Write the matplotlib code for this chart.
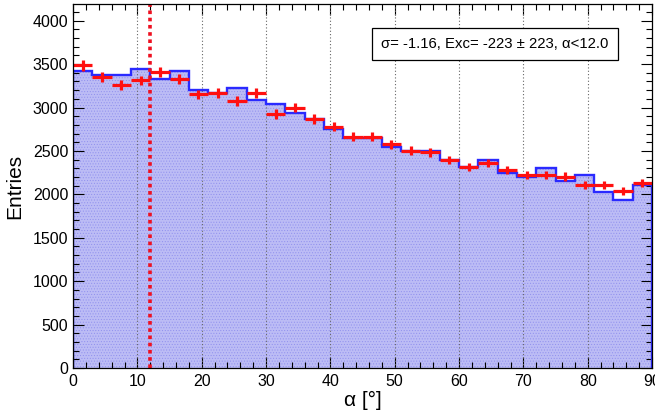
import numpy as np
import matplotlib
matplotlib.use("Agg")
import matplotlib.pyplot as plt
from matplotlib.ticker import MultipleLocator

plt.rcParams['font.family'] = ['Liberation Sans', 'DejaVu Sans']
plt.rcParams['hatch.linewidth'] = 0.4

# data
bin_edges = np.arange(0, 91, 3)
bkg_counts = [3415, 3373, 3373, 3442, 3323, 3423, 3196, 3166, 3219, 3089,
              3039, 2931, 2866, 2758, 2647, 2647, 2547, 2501, 2501, 2394,
              2317, 2398, 2244, 2194, 2298, 2156, 2221, 2029, 1937, 2106]
on_counts = [3484, 3354, 3258, 3311, 3408, 3323, 3150, 3170, 3077, 3170,
             2924, 3000, 2866, 2778, 2666, 2666, 2578, 2501, 2482, 2394,
             2317, 2360, 2279, 2221, 2221, 2205, 2106, 2106, 2040, 2125]
alpha_cut = 12.0
grid_x = [10, 20, 30, 40, 50, 60, 70, 80]
label_text = r"σ= -1.16, Exc= -223 ± 223, α<12.0"

fig = plt.figure(figsize=(6.55, 4.17), dpi=100)
ax = fig.add_axes([0.1115, 0.1175, 0.884, 0.8725])

centers = 0.5 * (bin_edges[:-1] + bin_edges[1:])
# filled background histogram
ax.hist(centers, bins=bin_edges, weights=bkg_counts, histtype='stepfilled',
        facecolor='#bcbcf5', edgecolor='#9090ee', hatch='......', linewidth=0, zorder=1)
ax.hist(centers, bins=bin_edges, weights=bkg_counts, histtype='step',
        color='#2a2aff', linewidth=1.7, zorder=3)

for gx in grid_x:
    ax.axvline(gx, color='#666666', linestyle=(0, (1, 2)), linewidth=0.8, zorder=2)

ax.errorbar(centers, on_counts, xerr=1.5, yerr=np.sqrt(on_counts), fmt='none',
            ecolor='#ff1010', elinewidth=2.3, capsize=0, zorder=4)

ax.axvline(alpha_cut, color='#ee1020', linestyle=(0, (1, 1)), linewidth=2.6, zorder=5)

ax.set_xlim(0, 90)
ax.set_ylim(0, 4190)
ax.xaxis.set_major_locator(MultipleLocator(10))
ax.xaxis.set_minor_locator(MultipleLocator(2))
ax.yaxis.set_major_locator(MultipleLocator(500))
ax.yaxis.set_minor_locator(MultipleLocator(100))
ax.tick_params(which='both', direction='in', top=True, right=True, labelsize=11.5, color='black')
ax.tick_params(which='major', length=8, width=0.8)
ax.tick_params(which='minor', length=4, width=0.8)
ax.tick_params(axis='x', pad=4)

ax.set_ylabel('Entries', fontsize=15, labelpad=6)
ax.set_xlabel('α [°]', fontsize=15, labelpad=2)

ax.text(0.729, 0.891, label_text, transform=ax.transAxes, ha='center', va='center',
        fontsize=10.7, zorder=10,
        bbox=dict(boxstyle='square,pad=0.62', facecolor='white', edgecolor='black', linewidth=0.9))

for s in ax.spines.values():
    s.set_linewidth(0.9)
    s.set_zorder(6)

fig.savefig('out.png', dpi=100)
